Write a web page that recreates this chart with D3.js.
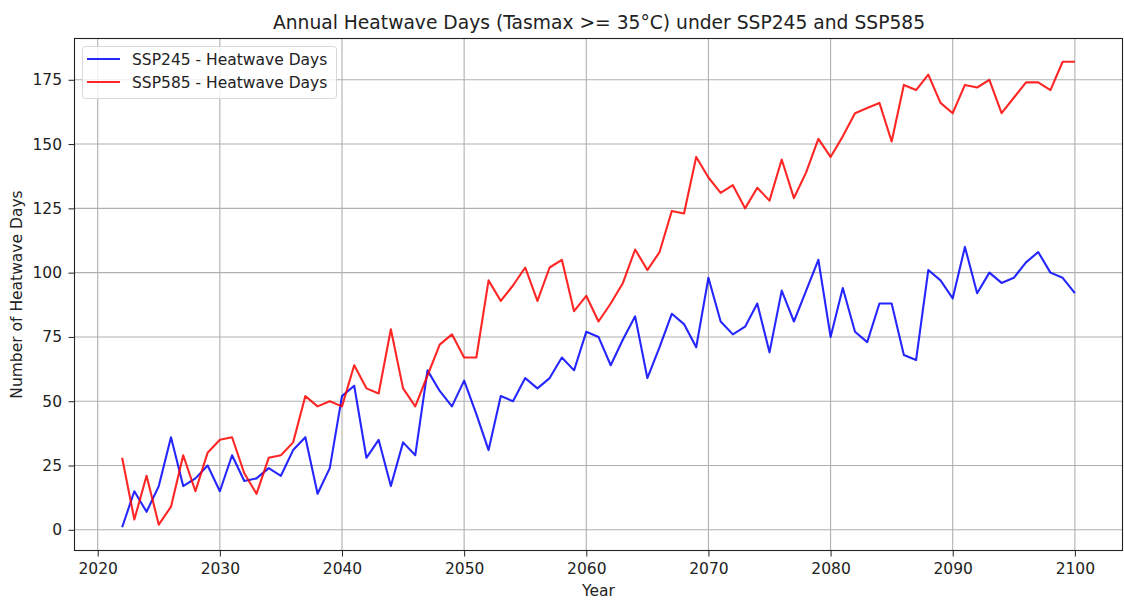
<!DOCTYPE html>
<html><head><meta charset="utf-8">
<script src="https://cdn.jsdelivr.net/npm/d3@7"></script>
<style>body{margin:0;background:#fff}svg{display:block;font-family:"DejaVu Sans",sans-serif}</style>
</head><body><svg id="c" width="1124" height="601"></svg>
<script>
const years = d3.range(2022, 2101);
const ssp245 = [1,15,7,17,36,17,20,25,15,29,19,20,24,21,31,36,14,24,52,56,28,35,17,34,29,62,54,48,58,45,31,52,50,59,55,59,67,62,77,75,64,74,83,59,71,84,80,71,98,81,76,79,88,69,93,81,93,105,75,94,77,73,88,88,68,66,101,97,90,110,92,100,96,98,104,108,100,98,92];
const ssp585 = [28,4,21,2,9,29,15,30,35,36,22,14,28,29,34,52,48,50,48,64,55,53,78,55,48,60,72,76,67,67,97,89,95,102,89,102,105,85,91,81,88,96,109,101,108,124,123,145,137,131,134,125,133,128,144,129,139,152,145,153,162,164,166,151,173,171,177,166,162,173,172,175,162,168,174,174,171,182,182];
const xTicks = [2020,2030,2040,2050,2060,2070,2080,2090,2100];
const yTicks = [0,25,50,75,100,125,150,175];
const seriesNames = ["SSP245 - Heatwave Days","SSP585 - Heatwave Days"];
const seriesColors = ["#0000ff","#ff0000"];

const svg = d3.select("#c");
const L = 74.5, R = 1122.5, T = 38.5, B = 550.5;
const FS = 15.5;
const x = d3.scaleLinear().domain([2018.1, 2103.9]).range([L, R]);
const y = d3.scaleLinear().domain([-8.05, 191.05]).range([B, T]);

// grid
const g = svg.append("g");
g.selectAll(".vg").data(xTicks).join("line")
  .attr("x1", d => x(d)).attr("x2", d => x(d)).attr("y1", T).attr("y2", B)
  .attr("stroke", "#b0b0b0").attr("stroke-width", 1.1);
g.selectAll(".hg").data(yTicks).join("line")
  .attr("y1", d => y(d)).attr("y2", d => y(d)).attr("x1", L).attr("x2", R)
  .attr("stroke", "#b0b0b0").attr("stroke-width", 1.1);

// lines
const line = d3.line().x((d, i) => x(years[i])).y(d => y(d));
[ssp245, ssp585].forEach((s, k) => {
  svg.append("path").datum(s).attr("d", line).attr("fill", "none")
    .attr("stroke", seriesColors[k]).attr("stroke-width", 2.1).attr("stroke-opacity", 0.85)
    .attr("stroke-linejoin", "round");
});

// axes
const xa = svg.append("g").attr("transform", `translate(0,${B})`)
  .call(d3.axisBottom(x).tickValues(xTicks).tickFormat(d3.format("d")).tickSize(6).tickPadding(6.5));
const ya = svg.append("g").attr("transform", `translate(${L},0)`)
  .call(d3.axisLeft(y).tickValues(yTicks).tickSize(6).tickPadding(6.5));
[xa, ya].forEach(a => {
  a.select(".domain").remove();
  a.selectAll("text").attr("font-size", FS).attr("fill", "#222").attr("font-family", "DejaVu Sans");
  a.selectAll("line").attr("stroke", "#222").attr("stroke-width", 1);
});
svg.append("rect").attr("x", L).attr("y", T).attr("width", R - L).attr("height", B - T)
  .attr("fill", "none").attr("stroke", "#222").attr("stroke-width", 1.1);

// labels
svg.append("text").attr("x", (L + R) / 2 + 0.5).attr("y", 29).attr("text-anchor", "middle")
  .attr("font-size", 18.7).attr("fill", "#222").text("Annual Heatwave Days (Tasmax >= 35°C) under SSP245 and SSP585");
svg.append("text").attr("x", (L + R) / 2).attr("y", 596).attr("text-anchor", "middle")
  .attr("font-size", FS).attr("fill", "#222").text("Year");
svg.append("text").attr("transform", `translate(22,${(T + B) / 2}) rotate(-90)`).attr("text-anchor", "middle")
  .attr("font-size", FS).attr("fill", "#222").text("Number of Heatwave Days");

// legend
const lg = svg.append("g");
lg.append("rect").attr("x", 82.5).attr("y", 46.5).attr("width", 254).attr("height", 52).attr("rx", 3)
  .attr("fill", "#fff").attr("fill-opacity", 0.8).attr("stroke", "#d8d8d8");
seriesNames.forEach((n, k) => {
  const yy = 59 + k * 23;
  lg.append("line").attr("x1", 87).attr("x2", 120).attr("y1", yy).attr("y2", yy)
    .attr("stroke", seriesColors[k]).attr("stroke-width", 2.1).attr("stroke-opacity", 0.85);
  lg.append("text").attr("x", 132).attr("y", yy + 5.5).attr("font-size", FS).attr("fill", "#222").text(n);
});
</script></body></html>
